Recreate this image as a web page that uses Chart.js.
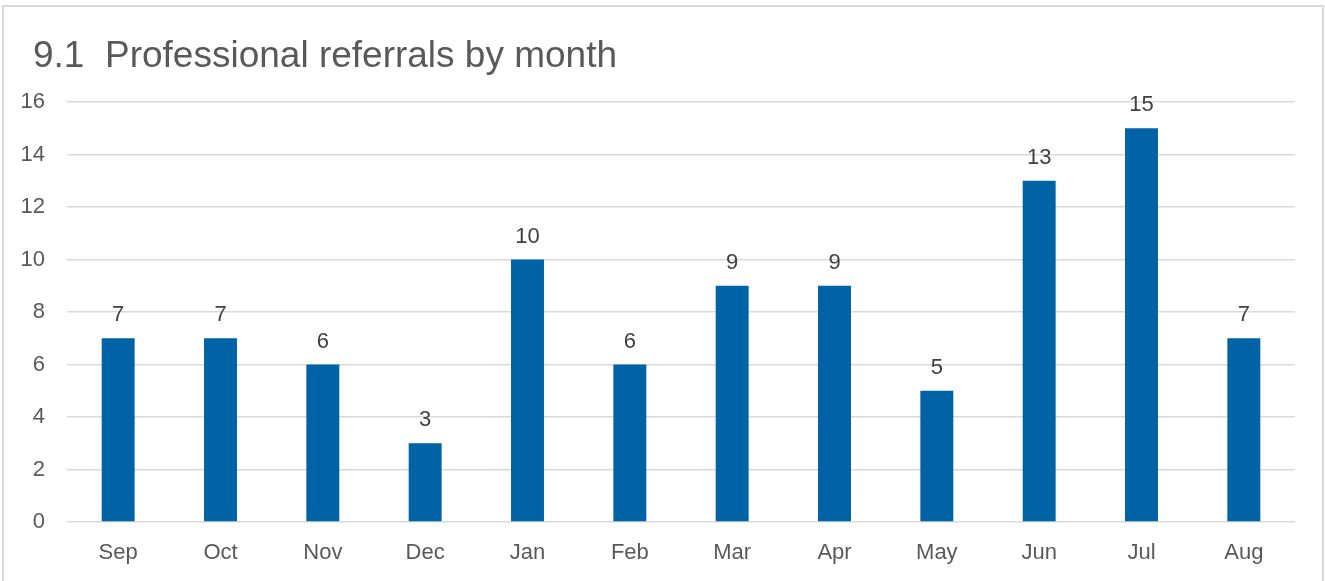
<!DOCTYPE html>
<html>
<head>
<meta charset="utf-8">
<script src="https://cdn.jsdelivr.net/npm/chart.js@4"></script>
<style>
    body { margin: 0; background: #ffffff; }
    #wrap { position: relative; width: 1325px; height: 581px; overflow: hidden; }
    #frame { position: absolute; left: 2px; top: 5px; width: 1318px; height: 600px; border: 2px solid #d9d9d9; }
    #chart_render { position: absolute; left: 0; top: 0; }
</style>
</head>
<body>
<div id="wrap">
    <div id="frame"></div>
    <canvas id="chart_render" width="1325" height="581"></canvas>
</div>
<script>
//// chart data

let chartTitle = '9.1  Professional referrals by month';
let monthLabels = ['Sep', 'Oct', 'Nov', 'Dec', 'Jan', 'Feb', 'Mar', 'Apr', 'May', 'Jun', 'Jul', 'Aug'];
let referralCounts = [7, 7, 6, 3, 10, 6, 9, 9, 5, 13, 15, 7];
let yTickMin = 0;
let yTickMax = 16;
let yTickStep = 2;

let fontFamily = "'Liberation Sans', Arial, sans-serif";
let textGrey = '#595959';
let barBlue = '#0063a5';

/// title drawn top left, above the plot (space kept by layout padding)

let titleText = {
    id: 'titleText',
    afterDraw: function(chart) {
        let ctx = chart.ctx;
        ctx.save();
        ctx.font = '37px ' + fontFamily;
        ctx.fillStyle = textGrey;
        ctx.textAlign = 'left';
        ctx.textBaseline = 'alphabetic';
        ctx.fillText(chartTitle, 33, 67);
        ctx.restore();
    }
};

/// value labels on top of each bar

let valueLabels = {
    id: 'valueLabels',
    afterDatasetsDraw: function(chart) {
        let ctx = chart.ctx;
        let meta = chart.getDatasetMeta(0);
        ctx.save();
        ctx.font = '22px ' + fontFamily;
        ctx.fillStyle = '#404040';
        ctx.textAlign = 'center';
        ctx.textBaseline = 'alphabetic';
        for (let i = 0; i < meta.data.length; i++) {
            let bar = meta.data[i];
            ctx.fillText(String(referralCounts[i]), bar.x, bar.y - 17);
        }
        ctx.restore();
    }
};

function renderChart() {
    let ctx = document.getElementById('chart_render').getContext('2d');
    new Chart(ctx, {
        type: 'bar',
        data: {
            labels: monthLabels,
            datasets: [{
                label: 'Referrals',
                data: referralCounts,
                backgroundColor: barBlue,
                categoryPercentage: 1,
                barPercentage: 0.322
            }]
        },
        options: {
            responsive: false,
            animation: false,
            layout: {
                padding: { left: 0, right: 30, top: 102, bottom: 0 }
            },
            plugins: {
                legend: { display: false },
                tooltip: { enabled: false },
                title: { display: false }
            },
            scales: {
                x: {
                    grid: { display: false, drawTicks: false },
                    border: { display: false },
                    ticks: {
                        color: textGrey,
                        font: { family: fontFamily, size: 22 },
                        padding: 18,
                        maxRotation: 0
                    },
                    afterFit: function(scale) { scale.height = 59; }
                },
                y: {
                    min: yTickMin,
                    max: yTickMax,
                    grid: { color: '#d9d9d9', lineWidth: 1.5, drawTicks: false },
                    border: { display: false },
                    ticks: {
                        stepSize: yTickStep,
                        color: textGrey,
                        font: { family: fontFamily, size: 22 },
                        padding: 22
                    },
                    afterFit: function(scale) { scale.width = 67; }
                }
            }
        },
        plugins: [valueLabels, titleText]
    });
}

renderChart();
</script>
</body>
</html>
